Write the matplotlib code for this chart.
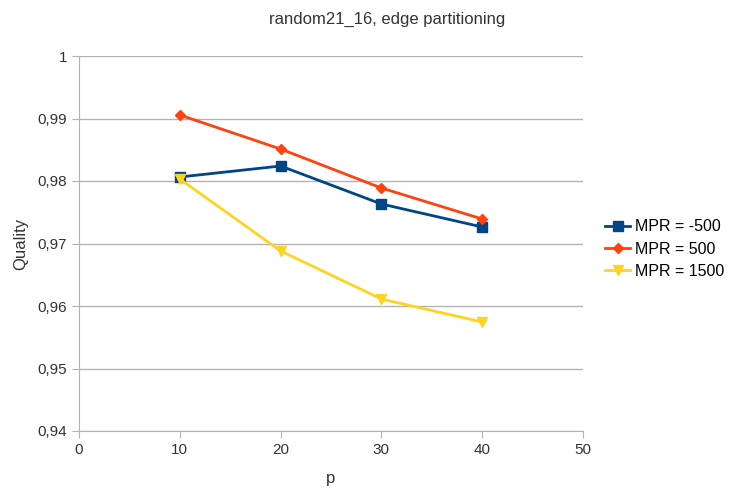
import matplotlib
matplotlib.use('Agg')
import matplotlib.pyplot as plt
from matplotlib.ticker import FuncFormatter

plt.rcParams['font.family'] = ['Liberation Sans', 'DejaVu Sans']

# dados
p = [10, 20, 30, 40]
mpr_m500 = [0.98064, 0.9824, 0.97632, 0.97264]
mpr_500 = [0.99056, 0.98512, 0.97888, 0.97392]
mpr_1500 = [0.98032, 0.9688, 0.96112, 0.95744]

fig = plt.figure(figsize=(7.32, 4.91), dpi=100)
ax = fig.add_axes([79 / 732, 1 - 431 / 491, 504 / 732, 375 / 491])

ax.plot(p, mpr_m500, color='#004586', lw=2, marker='s', ms=6.5, label='MPR = -500')
ax.plot(p, mpr_500, color='#ff420e', lw=2, marker='D', ms=5, label='MPR = 500')
ax.plot(p, mpr_1500, color='#ffd320', lw=2, marker='v', ms=7, label='MPR = 1500')

ax.set_xlim(0, 50)
ax.set_ylim(0.94, 1.0)
ax.set_xticks(range(0, 51, 10))
ax.set_yticks([0.94, 0.95, 0.96, 0.97, 0.98, 0.99, 1.0])

def virgula(v, pos):
    s = ('%.2f' % v).rstrip('0').rstrip('.')
    return s.replace('.', ',')

ax.yaxis.set_major_formatter(FuncFormatter(virgula))
ax.grid(axis='y', color='#b3b3b3', lw=1)
ax.set_axisbelow(True)
for side in ['top', 'right']:
    ax.spines[side].set_visible(False)
for side in ['left', 'bottom']:
    ax.spines[side].set_color('#b3b3b3')
ax.tick_params(colors='#b3b3b3', labelcolor='#333333', labelsize=11, length=5)

ax.set_xlabel('p', fontsize=12, color='#333333', labelpad=10)
ax.set_ylabel('Quality', fontsize=12, color='#333333', labelpad=7)
fig.suptitle('random21_16, edge partitioning', fontsize=12, color='#333333',
             x=387 / 732, y=0.975)

ax.legend(loc='center left', bbox_to_anchor=(1.015, 0.485), frameon=False,
          fontsize=11.5, handlelength=1.6, handletextpad=0.3, labelspacing=0.45)

fig.savefig('out.png', dpi=100)
